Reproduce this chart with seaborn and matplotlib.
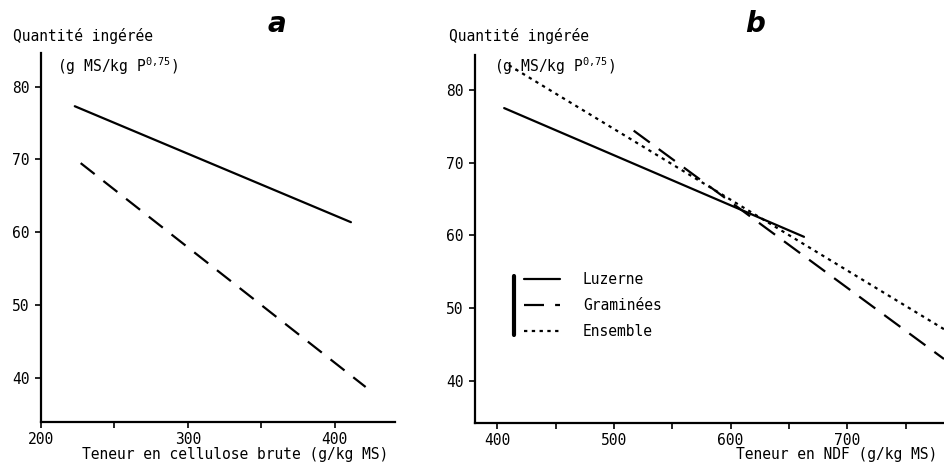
import matplotlib
matplotlib.use("Agg")
import matplotlib.pyplot as plt
import seaborn as sns
import pandas as pd
from matplotlib.lines import Line2D

# ---- data ----
series_a = ["Luzerne", "Graminées"]
a_x_luzerne = [223, 411]
a_y_luzerne = [77.3, 61.4]
a_x_graminees = [227, 421]
a_y_graminees = [69.5, 38.8]

series_b = ["Luzerne", "Graminées", "Ensemble"]
b_x_luzerne = [406, 663]
b_y_luzerne = [77.5, 59.8]
b_x_graminees = [517, 783]
b_y_graminees = [74.4, 43.0]
b_x_ensemble = [410, 783]
b_y_ensemble = [83.4, 47.1]

a_xticks = [200, 300, 400]
a_xminor = [250, 350]
b_xticks = [400, 500, 600, 700]
b_xminor = [450, 550, 650, 750]
yticks = [40, 50, 60, 70, 80]

ylabel_1 = "Quantité ingérée"
ylabel_2 = "(g MS/kg P$^{0{,}75}$)"
ylabel_2b = "(g.MS/kg P$^{0{,}75}$)"
xlabel_a = "Teneur en cellulose brute (g/kg MS)"
xlabel_b = "Teneur en NDF (g/kg MS)"

sns.set_style("ticks")
plt.rcParams["font.family"] = ["DejaVu Sans Mono", "DejaVu Sans"]
plt.rcParams["text.color"] = "black"
plt.rcParams["axes.labelcolor"] = "black"
plt.rcParams["xtick.color"] = "black"
plt.rcParams["ytick.color"] = "black"
plt.rcParams["mathtext.fontset"] = "custom"
plt.rcParams["mathtext.rm"] = "DejaVu Sans Mono"
plt.rcParams["mathtext.default"] = "rm"

df_a = pd.DataFrame({
    "x": a_x_luzerne + a_x_graminees,
    "y": a_y_luzerne + a_y_graminees,
    "serie": [series_a[0]] * 2 + [series_a[1]] * 2,
})
df_b = pd.DataFrame({
    "x": b_x_luzerne + b_x_graminees + b_x_ensemble,
    "y": b_y_luzerne + b_y_graminees + b_y_ensemble,
    "serie": [series_b[0]] * 2 + [series_b[1]] * 2 + [series_b[2]] * 2,
})

W, H = 944, 466
fig = plt.figure(figsize=(W / 100, H / 100), dpi=100)
ax_a = fig.add_axes([41 / W, 1 - 422 / H, (395 - 41) / W, (422 - 53) / H])
ax_b = fig.add_axes([475 / W, 1 - 423 / H, (944 - 475) / W, (423 - 55) / H])

dashes_a = {"Luzerne": "", "Graminées": (8, 5)}
dashes_b = {"Luzerne": "", "Graminées": (9, 5), "Ensemble": (1.5, 2)}

sns.lineplot(data=df_a, x="x", y="y", style="serie", dashes=dashes_a,
             color="black", linewidth=1.6, legend=False, ax=ax_a, sort=False)
sns.lineplot(data=df_b, x="x", y="y", style="serie", dashes=dashes_b,
             color="black", linewidth=1.6, legend=True, ax=ax_b, sort=False)

for ax in (ax_a, ax_b):
    sns.despine(ax=ax)
    for s in ("left", "bottom"):
        ax.spines[s].set_linewidth(1.6)
        ax.spines[s].set_color("black")
    ax.set_xlabel("")
    ax.set_ylabel("")
    ax.set_yticks(yticks)
    ax.tick_params(axis="both", which="both", direction="out", length=4,
                   width=1.2, color="black", labelsize=10.5, labelcolor="black")
    ax.tick_params(axis="y", pad=4)
    ax.tick_params(axis="x", pad=3)
    ax.set_facecolor("white")

ax_a.set_xlim(200, 441)
ax_a.set_ylim(34, 84.6)
ax_a.set_xticks(a_xticks)
ax_a.set_xticks(a_xminor, minor=True)

ax_b.set_xlim(381, 783)
ax_b.set_ylim(34.2, 84.8)
ax_b.set_xticks(b_xticks)
ax_b.set_xticks(b_xminor, minor=True)

handles, labels = ax_b.get_legend_handles_labels()
leg = ax_b.legend(handles, labels, loc="center left", bbox_to_anchor=(0.104, 0.32),
                  frameon=False, fontsize=10.5, handlelength=2.45, handletextpad=1.6,
                  labelspacing=0.75, borderpad=0, borderaxespad=0)
for t in leg.get_texts():
    t.set_color("black")
# vertical bar at the left of the legend
ax_b.add_line(Line2D([0.083, 0.083], [0.24, 0.40], transform=ax_b.transAxes,
                     color="black", linewidth=3, clip_on=False))

# texts
fig.text(13 / W, 1 - 36 / H, ylabel_1, ha="left", va="center", fontsize=10.5)
fig.text(57 / W, 1 - 66 / H, ylabel_2, ha="left", va="center", fontsize=10.5)
fig.text(449 / W, 1 - 36 / H, ylabel_1, ha="left", va="center", fontsize=10.5)
fig.text(494 / W, 1 - 66 / H, ylabel_2b, ha="left", va="center", fontsize=10.5)
fig.text(235 / W, 1 - 455 / H, xlabel_a, ha="center", va="center", fontsize=10.5)
fig.text(937 / W, 1 - 455 / H, xlabel_b, ha="right", va="center", fontsize=10.5)
fig.text(277 / W, 1 - 24 / H, "a", ha="center", va="center", fontsize=20,
         fontweight="heavy", style="italic", family="DejaVu Sans", color="black")
fig.text(755 / W, 1 - 24 / H, "b", ha="center", va="center", fontsize=20,
         fontweight="heavy", style="italic", family="DejaVu Sans", color="black")

fig.savefig("out.png", dpi=100, facecolor="white")
